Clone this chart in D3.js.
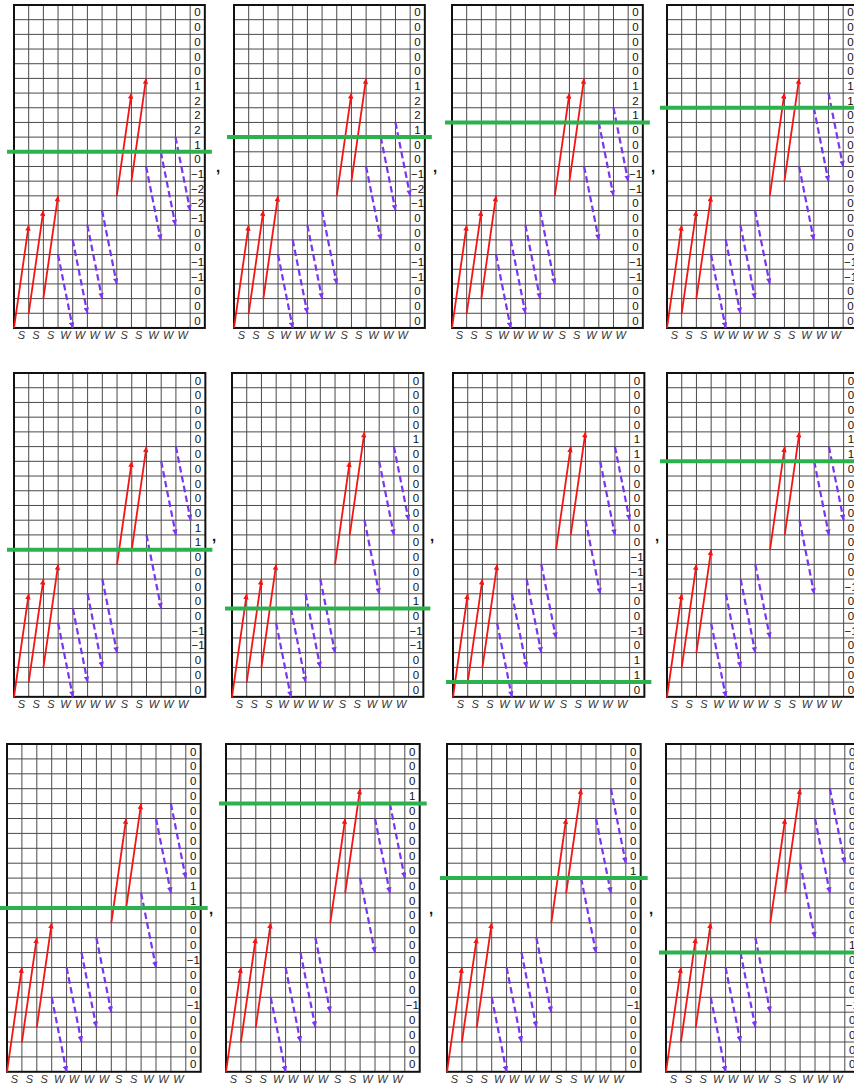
<!DOCTYPE html>
<html><head><meta charset="utf-8">
<script src="https://cdn.jsdelivr.net/npm/d3@7"></script>
<style>body{margin:0;background:#fff}svg{display:block}</style>
</head><body>
<svg id="c" width="854" height="1088"></svg>
<script>
// ---- data ----
const columnTypes = ["S","S","S","W","W","W","W","S","S","W","W","W"];
const arrowStarts = [
  [0,1,2,5,6,7,8,9,10,11,12,13],
  [0,1,2,5,6,7,8,9,10,11,13,14],
  [0,1,2,5,6,7,8,9,10,11,14,15],
  [0,1,2,5,6,7,8,9,10,11,15,16],
  [0,1,2,5,6,7,8,9,10,11,16,17],
  [0,1,2,5,6,7,8,9,11,12,16,17],
  [0,1,2,5,7,8,9,10,11,12,16,17],
  [0,2,3,5,7,8,9,10,11,12,16,17],
  [0,2,3,5,7,8,9,10,11,12,17,18],
  [0,2,3,5,7,8,9,10,12,13,17,18],
  [0,2,3,5,7,8,9,10,12,13,17,19],
  [0,2,3,5,7,8,9,10,12,14,17,19]
];
const arrowEnds = [
  [7,8,9,0,1,2,3,16,17,6,7,8],
  [7,8,9,0,1,2,3,16,17,6,8,9],
  [7,8,9,0,1,2,3,16,17,6,9,10],
  [7,8,9,0,1,2,3,16,17,6,10,11],
  [7,8,9,0,1,2,3,16,17,6,11,12],
  [7,8,9,0,1,2,3,16,18,7,11,12],
  [7,8,9,0,2,3,4,17,18,7,11,12],
  [7,9,10,0,2,3,4,17,18,7,11,12],
  [7,9,10,0,2,3,4,17,18,7,12,13],
  [7,9,10,0,2,3,4,17,19,8,12,13],
  [7,9,10,0,2,3,4,17,19,8,12,14],
  [7,9,10,0,2,3,4,17,19,9,12,14]
];
const greenLevels = [12,13,14,15,10,6,1,16,11,18,13,8];
// row labels, listed from top row to bottom row
const rowLabels = [
  [0,0,0,0,0,1,2,2,2,1,0,-1,-2,-2,-1,0,0,-1,-1,0,0,0],
  [0,0,0,0,0,1,2,2,1,0,0,-1,-2,-1,0,0,0,-1,-1,0,0,0],
  [0,0,0,0,0,1,2,1,0,0,0,-1,-1,0,0,0,0,-1,-1,0,0,0],
  [0,0,0,0,0,1,1,0,0,0,0,0,0,0,0,0,0,-1,-1,0,0,0],
  [0,0,0,0,0,0,0,0,0,0,1,1,0,0,0,0,0,-1,-1,0,0,0],
  [0,0,0,0,1,0,0,0,0,0,0,0,0,0,0,1,0,-1,-1,0,0,0],
  [0,0,0,0,1,1,0,0,0,0,0,0,-1,-1,-1,0,0,-1,0,1,1,0],
  [0,0,0,0,1,1,0,0,0,0,0,0,0,0,-1,0,0,-1,0,0,0,0],
  [0,0,0,0,0,0,0,0,0,1,1,0,0,0,-1,0,0,-1,0,0,0,0],
  [0,0,0,1,0,0,0,0,0,0,0,0,0,0,0,0,0,-1,0,0,0,0],
  [0,0,0,0,0,0,0,0,1,0,0,0,0,0,0,0,0,-1,0,0,0,0],
  [0,0,0,0,0,0,0,0,0,0,0,0,0,1,0,0,0,-1,0,0,0,0]
];
const NROWS = 22, NCOLS = 13;

// ---- layout ----
const rowTops = [5, 373, 744];
const cellSizes = [14.68, 14.72, 14.9];
const panelLefts = [[14,234,452,667],[14,232,453,667],[7,226,447,666]];
const commaX = [[218,435,653],[214,432,657],[211,431,651]];
const RED = "#f41414", PURPLE = "#7a35f2", GREEN = "#2bb24c";

const svg = d3.select("#c");
const defs = svg.append("defs");
[["hR", RED], ["hP", PURPLE]].forEach(([id, c]) => {
  defs.append("marker").attr("id", id).attr("viewBox", "0 -5 10 10")
    .attr("refX", 10).attr("refY", 0).attr("markerUnits", "userSpaceOnUse")
    .attr("markerWidth", 7).attr("markerHeight", 5.5).attr("orient", "auto")
    .append("path").attr("d", "M0,-5L10,0L0,5Z").attr("fill", c);
});
const fmt = d3.format("d");

for (let p = 0; p < 12; p++) {
  const r = Math.floor(p / 4), c = p % 4;
  const cs = cellSizes[r];
  const left = panelLefts[r][c], top = rowTops[r];
  const x = d3.scaleLinear().domain([0, NCOLS]).range([left, left + NCOLS * cs]);
  const y = d3.scaleLinear().domain([0, NROWS]).range([top + NROWS * cs, top]);
  const g = svg.append("g");

  // grid
  g.selectAll("line.v").data(d3.range(1, NCOLS)).join("line")
    .attr("x1", d => x(d)).attr("x2", d => x(d)).attr("y1", y(0)).attr("y2", y(NROWS))
    .attr("stroke", "#4a4a4a").attr("stroke-width", 1);
  g.selectAll("line.h").data(d3.range(1, NROWS)).join("line")
    .attr("x1", x(0)).attr("x2", x(NCOLS)).attr("y1", d => y(d)).attr("y2", d => y(d))
    .attr("stroke", "#4a4a4a").attr("stroke-width", 1);
  g.append("rect").attr("x", x(0)).attr("y", y(NROWS))
    .attr("width", x(NCOLS) - x(0)).attr("height", y(0) - y(NROWS))
    .attr("fill", "none").attr("stroke", "#111").attr("stroke-width", 2);

  // arrows
  columnTypes.forEach((t, i) => {
    const s = arrowStarts[p][i], e = arrowEnds[p][i];
    const ln = g.append("line")
      .attr("x1", x(i)).attr("y1", y(s)).attr("x2", x(i + 1)).attr("y2", y(e));
    if (t === "S") {
      ln.attr("stroke", RED).attr("stroke-width", 1.8).attr("marker-end", "url(#hR)");
    } else {
      ln.attr("stroke", PURPLE).attr("stroke-width", 2.2).attr("stroke-dasharray", "6.5,3.5")
        .attr("marker-end", "url(#hP)");
    }
  });

  // row labels
  g.selectAll("text.lab").data(rowLabels[p]).join("text")
    .attr("x", x(NCOLS - 0.5)).attr("y", (d, k) => y(NROWS - 1 - k + 0.5))
    .attr("dy", "0.36em").attr("text-anchor", "middle")
    .attr("font-family", "Liberation Sans, Arial, sans-serif").attr("font-size", 11.5)
    .attr("fill", "#111").text(d => fmt(d));

  // column labels
  g.selectAll("text.col").data(columnTypes).join("text")
    .attr("x", (d, i) => x(i + 0.5)).attr("y", y(0) + 11.5)
    .attr("text-anchor", "middle").attr("font-style", "italic")
    .attr("font-family", "Liberation Sans, Arial, sans-serif").attr("font-size", 11)
    .attr("fill", "#333").text(d => d);

  // green line
  g.append("line").attr("x1", x(0) - 7).attr("x2", x(NCOLS) + 7)
    .attr("y1", y(greenLevels[p])).attr("y2", y(greenLevels[p]))
    .attr("stroke", GREEN).attr("stroke-width", 4);

  // comma separator
  if (c < 3) {
    svg.append("text").attr("x", commaX[r][c]).attr("y", (rowTops[r] + NROWS * cs / 2) + 6)
      .attr("text-anchor", "middle").attr("font-family", "Liberation Sans, Arial, sans-serif")
      .attr("font-size", 15).attr("font-weight", "bold").attr("fill", "#111").text(",");
  }
}
</script>
</body></html>
